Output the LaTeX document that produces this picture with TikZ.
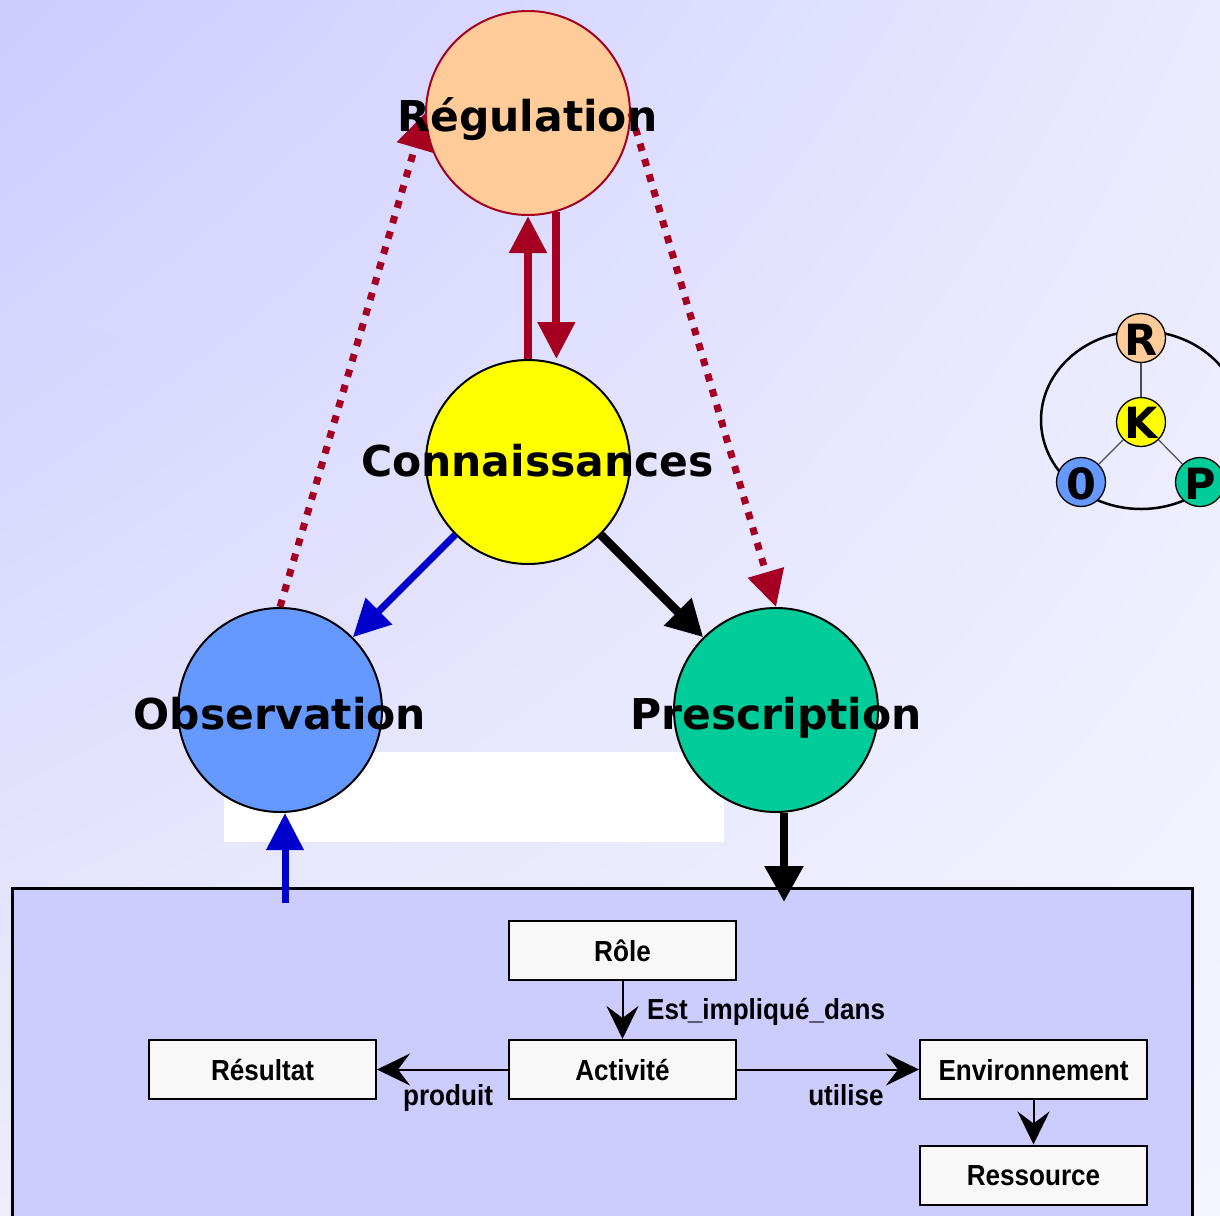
\documentclass[tikz,border=0pt]{standalone}
\usepackage{fontspec}
\newfontfamily\titlefont{DejaVu Sans}
\newfontfamily\boxfont{Liberation Sans}[FakeStretch=0.9]
\usetikzlibrary{arrows.meta,calc,shadings}

\definecolor{regred}{RGB}{165,0,33}
\definecolor{regfill}{RGB}{255,204,153}
\definecolor{connfill}{RGB}{255,255,0}
\definecolor{obsfill}{RGB}{102,153,255}
\definecolor{presfill}{RGB}{0,204,153}
\definecolor{obsblue}{RGB}{0,0,204}
\definecolor{boxblue}{RGB}{204,204,255}
\definecolor{boxwhite}{RGB}{248,248,248}
\definecolor{bgA}{RGB}{204,204,255}
\definecolor{bgB}{RGB}{233,233,255}
\definecolor{bgC}{RGB}{237,237,253}
\definecolor{bgD}{RGB}{245,245,255}

\begin{document}
\begin{tikzpicture}[x=1pt,y=-1pt,
  bigcircle/.style={circle,minimum size=204pt,inner sep=0pt,line width=2pt,draw=black},
  minicircle/.style={circle,minimum size=49pt,inner sep=0pt,line width=1.3pt,draw=black},
  title/.style={font=\titlefont\bfseries\fontsize{42.5}{50}\selectfont,anchor=base,inner sep=0pt},
  letter/.style={font=\titlefont\bfseries\fontsize{43}{48}\selectfont,anchor=base,inner sep=0pt},
  classbox/.style={draw=black,line width=2pt,fill=boxwhite,minimum width=227pt,minimum height=59pt,
    inner sep=0pt,text height=21pt,text depth=0pt,font=\boxfont\bfseries\fontsize{29}{34}\selectfont},
  rolelabel/.style={inner sep=0pt,font=\boxfont\bfseries\fontsize{29}{34}\selectfont},
  redarrow/.style={draw=regred,line width=8pt,-{Triangle[length=37pt,width=36pt]}},
  dotarrow/.style={draw=regred,line width=7pt,dash pattern=on 7.5pt off 8.5pt,-{Triangle[length=36pt,width=36pt]}},
  bluearrow/.style={draw=obsblue,line width=7pt,-{Triangle[length=37pt,width=36pt]}},
  blackarrow/.style={draw=black,line width=8.5pt,-{Triangle[length=36pt,width=37pt]}},
  umlarrow/.style={draw=black,line width=2pt,-{Stealth[length=33pt,width=32pt,inset=12pt]}},
  spoke/.style={draw=black!70,line width=1.2pt}]

\useasboundingbox (0,0) rectangle (1220,1215);
\clip (0,0) rectangle (1220,1215);

% background
\shade[upper left=bgA,upper right=bgB,lower left=bgC,lower right=bgD] (0,0) rectangle (1220,1215);
\fill[white] (224,752) rectangle (724,842);

% activity model frame
\draw[fill=boxblue,line width=3pt] (12,888) rectangle (1192,1240);

% class boxes
\node[classbox] (role) at (622.5,950.5) {Rôle};
\node[classbox] (act) at (622.5,1069.5) {Activité};
\node[classbox] (res) at (262.5,1069.5) {Résultat};
\node[classbox] (env) at (1033.5,1069.5) {Environnement};
\node[classbox] (ress) at (1033.5,1175) {Ressource};

\draw[umlarrow] (role) -- (act);
\draw[umlarrow] (act) -- (res);
\draw[umlarrow] (act) -- (env);
\draw[umlarrow] (env) -- (ress);

\node[rolelabel,anchor=base west] (limpl) at (647,1019) {Est\_impliqué\_dans};
\node[rolelabel,anchor=base] (lprod) at (448,1105) {produit};
\node[rolelabel,anchor=base] (lutil) at (846,1105) {utilise};

% main cycle
\node[bigcircle,fill=regfill,draw=regred] (reg) at (528,113) {};
\node[bigcircle,fill=connfill] (conn) at (528,462) {};
\node[bigcircle,fill=obsfill] (obs) at (280,710) {};
\node[bigcircle,fill=presfill] (presc) at (776,710) {};

\coordinate (obsin) at (285,903);
\coordinate (presout) at (784,902);

\draw[redarrow] (conn.north) -- (reg.south);
\draw[redarrow] (reg.-74) -- (reg.-74 |- conn.north);
\draw[bluearrow] (conn.south west) -- (obs.north east);
\draw[blackarrow] (conn.south east) -- (presc.north west);
\draw[dotarrow] (obs.north) -- (reg.west);
\draw[dotarrow] (reg.east) -- (presc.north);
\draw[bluearrow] (obsin) -- (obsin |- obs.south);
\draw[blackarrow] (presout |- presc.south) -- (presout);

% legend
\draw[line width=2.5pt] (1141,420) ellipse (100pt and 89pt);
\node[minicircle,fill=regfill] (mR) at (1141,338) {};
\node[minicircle,fill=connfill] (mK) at (1141,422) {};
\node[minicircle,fill=obsfill] (mO) at (1081,482) {};
\node[minicircle,fill=presfill] (mP) at (1200,482) {};
\draw[spoke] (mK) -- (mR);
\draw[spoke] (mK) -- (mO);
\draw[spoke] (mK) -- (mP);
\node[letter] (tR) at (1141,355) {R};
\node[letter] (tK) at (1141,438) {K};
\node[letter] (tO) at (1081,499) {0};
\node[letter] (tP) at (1200,499) {P};

% titles
\node[title] (treg) at (527.5,131) {Régulation};
\node[title] (tconn) at (537.5,476) {Connaissances};
\node[title] (tobs) at (280,729) {Observation};
\node[title] (tpres) at (776,729) {Prescription};
\end{tikzpicture}
\end{document}
